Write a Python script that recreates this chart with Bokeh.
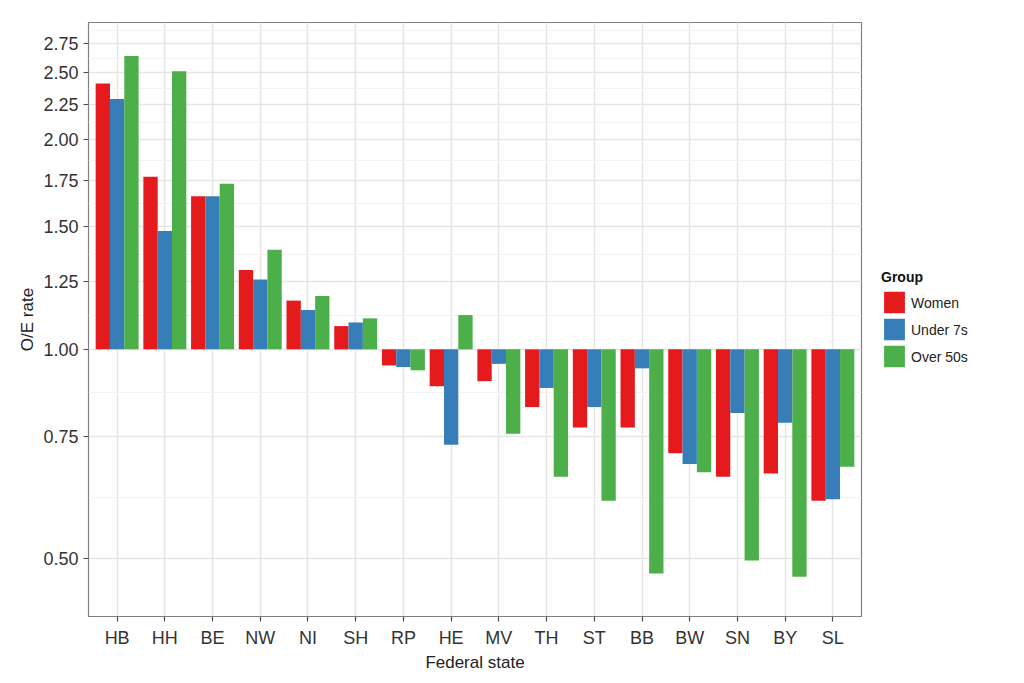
from bokeh.plotting import figure
from bokeh.models import (FactorRange, Range1d, FixedTicker, PrintfTickFormatter,
                          Legend, LegendItem, ColumnDataSource)
from bokeh.transform import dodge
from bokeh.embed import file_html
from bokeh.resources import INLINE

states = ["HB", "HH", "BE", "NW", "NI", "SH", "RP", "HE", "MV", "TH", "ST", "BB", "BW", "SN", "BY", "SL"]
women = [2.41, 1.77, 1.66, 1.30, 1.175, 1.08, 0.948, 0.885, 0.90, 0.826, 0.772, 0.772, 0.709, 0.656, 0.663, 0.606]
under7 = [2.29, 1.48, 1.66, 1.26, 1.139, 1.093, 0.943, 0.729, 0.953, 0.88, 0.826, 0.939, 0.684, 0.81, 0.784, 0.609]
over50 = [2.64, 2.51, 1.73, 1.39, 1.193, 1.108, 0.933, 1.12, 0.756, 0.656, 0.606, 0.476, 0.666, 0.497, 0.471, 0.678]
groups = ["Women", "Under 7s", "Over 50s"]
colors = ["#E41A1C", "#377EB8", "#4DAF4A"]
y_ticks = [0.50, 0.75, 1.00, 1.25, 1.50, 1.75, 2.00, 2.25, 2.50, 2.75]
y_minor = [0.612, 0.866, 1.118, 1.369, 1.620, 1.871, 2.121, 2.372, 2.622, 2.872]

src = ColumnDataSource(dict(state=states, women=women, under7=under7, over50=over50))

x_range = FactorRange(factors=states, range_padding=0.0125, range_padding_units="percent")
p = figure(x_range=x_range, y_range=Range1d(0.413, 2.95), y_axis_type="log",
           frame_width=773, frame_height=594,
           min_border_left=88, min_border_top=22, min_border_bottom=52, min_border_right=10,
           output_backend="svg", toolbar_location=None,
           background_fill_color="white", border_fill_color="white")

p.outline_line_color = "#7f7f7f"
p.outline_line_width = 1.2

renderers = []
for col, off, c in zip(["women", "under7", "over50"], [-0.3, 0.0, 0.3], colors):
    r = p.vbar(x=dodge("state", off, range=p.x_range), bottom=1.0, top=col, width=0.3,
               source=src, fill_color=c, line_color=None)
    renderers.append(r)

# grids
p.xgrid.grid_line_color = "#e5e5e5"
p.xgrid.grid_line_width = 1.5
p.ygrid.grid_line_color = "#e5e5e5"
p.ygrid.grid_line_width = 1.5
p.ygrid.minor_grid_line_color = "#f2f2f2"
p.ygrid.minor_grid_line_width = 1
p.yaxis.ticker = FixedTicker(ticks=y_ticks, minor_ticks=y_minor)
p.yaxis.formatter = PrintfTickFormatter(format="%.2f")

for ax in (p.xaxis[0], p.yaxis[0]):
    ax.axis_line_color = None
    ax.major_tick_line_color = "#4d4d4d"
    ax.major_tick_line_width = 1.2
    ax.major_tick_out = 5
    ax.major_tick_in = 0
    ax.minor_tick_line_color = None
    ax.major_label_text_font = "Liberation Sans"
    ax.major_label_text_font_size = "18px"
    ax.major_label_text_color = "#333333"
    ax.axis_label_text_font = "Liberation Sans"
    ax.axis_label_text_font_size = "17px"
    ax.axis_label_text_font_style = "normal"
    ax.axis_label_text_color = "#222222"

p.xaxis.axis_label = "Federal state"
p.yaxis.axis_label = "O/E rate"
p.xaxis.major_label_standoff = 6
p.xaxis.axis_label_standoff = 2
p.yaxis.major_label_standoff = 5
p.yaxis.axis_label_standoff = 3

legend = Legend(items=[LegendItem(label=g, renderers=[r]) for g, r in zip(groups, renderers)],
                title="Group", location="center_left",
                title_text_font="Liberation Sans", title_text_font_style="bold",
                title_text_font_size="14px", title_text_color="#111111", title_standoff=4,
                label_text_font="Liberation Sans", label_text_font_size="14px",
                label_text_color="#222222",
                glyph_width=26, glyph_height=27, label_height=27, spacing=0,
                padding=0, margin=20, border_line_color=None, background_fill_alpha=0,
                label_standoff=4)
p.add_layout(legend, "right")

open("out.html", "w").write(file_html(p, INLINE))
